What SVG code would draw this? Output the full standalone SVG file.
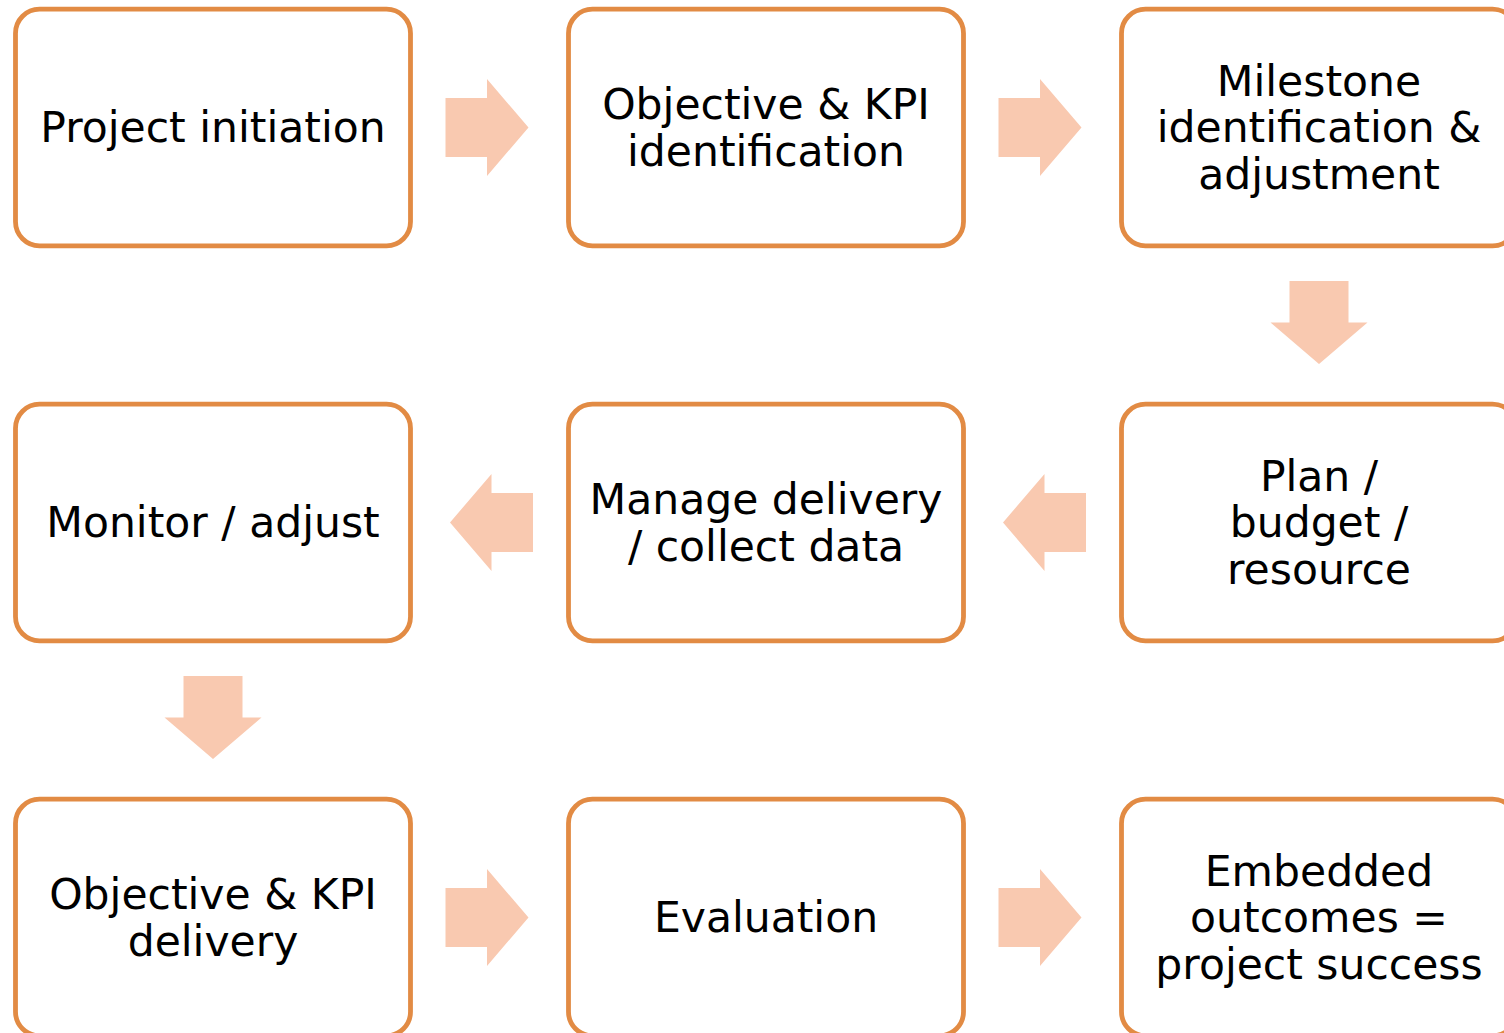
<svg xmlns="http://www.w3.org/2000/svg" width="1504" height="1033" viewBox="0 0 1504 1033">
<style>
.box{fill:#fff;stroke:#E28B44;stroke-width:4.8}
.arr{fill:#F9C9B0}
text{font-family:"DejaVu Sans","Verdana",sans-serif;font-size:42.5px;fill:#000;text-anchor:middle}
</style>
<rect width="1504" height="1033" fill="#fff"/>
<defs>
<polygon id="ar" points="0,-29.5 41.5,-29.5 41.5,-48.5 83,0 41.5,48.5 41.5,29.5 0,29.5"/>
</defs>
<g id="connectors">
<use href="#ar" class="arr" transform="translate(445.5,127.5)"/>
<use href="#ar" class="arr" transform="translate(998.5,127.5)"/>
<use href="#ar" class="arr" transform="translate(1319,281) rotate(90)"/>
<use href="#ar" class="arr" transform="translate(1086,522.5) rotate(180)"/>
<use href="#ar" class="arr" transform="translate(533,522.5) rotate(180)"/>
<use href="#ar" class="arr" transform="translate(213,676) rotate(90)"/>
<use href="#ar" class="arr" transform="translate(445.5,917.5)"/>
<use href="#ar" class="arr" transform="translate(998.5,917.5)"/>
</g>
<g id="n1"><rect class="box" x="15.5" y="9.2" width="395" height="236.6" rx="24"/><text x="213" y="142.2">Project initiation</text></g>
<g id="n2"><rect class="box" x="568.5" y="9.2" width="395" height="236.6" rx="24"/><text x="766" y="118.9">Objective &amp; KPI</text><text x="766" y="165.6">identification</text></g>
<g id="n3"><rect class="box" x="1121.5" y="9.2" width="395" height="236.6" rx="24"/><text x="1319" y="95.5">Milestone</text><text x="1319" y="142.2">identification &amp;</text><text x="1319" y="188.9">adjustment</text></g>
<g id="n4"><rect class="box" x="1121.5" y="404.2" width="395" height="236.6" rx="24"/><text x="1319" y="490.5">Plan /</text><text x="1319" y="537.2">budget /</text><text x="1319" y="583.9">resource</text></g>
<g id="n5"><rect class="box" x="568.5" y="404.2" width="395" height="236.6" rx="24"/><text x="766" y="513.9">Manage delivery</text><text x="766" y="560.6">/ collect data</text></g>
<g id="n6"><rect class="box" x="15.5" y="404.2" width="395" height="236.6" rx="24"/><text x="213" y="537.2">Monitor / adjust</text></g>
<g id="n7"><rect class="box" x="15.5" y="799.2" width="395" height="236.6" rx="24"/><text x="213" y="908.9">Objective &amp; KPI</text><text x="213" y="955.6">delivery</text></g>
<g id="n8"><rect class="box" x="568.5" y="799.2" width="395" height="236.6" rx="24"/><text x="766" y="932.2">Evaluation</text></g>
<g id="n9"><rect class="box" x="1121.5" y="799.2" width="395" height="236.6" rx="24"/><text x="1319" y="885.5">Embedded</text><text x="1319" y="932.2">outcomes =</text><text x="1319" y="978.9">project success</text></g>
</svg>
